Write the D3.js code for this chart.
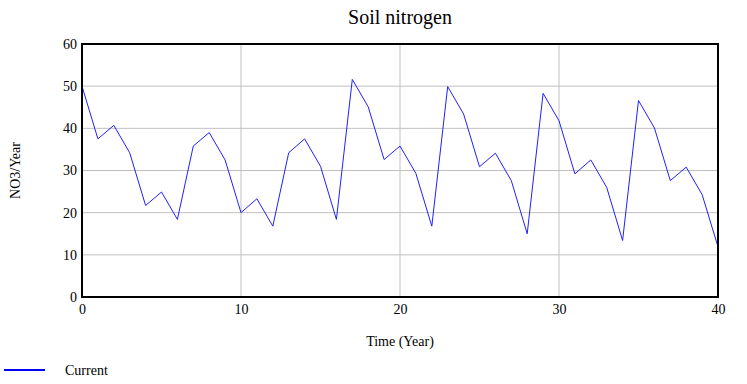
<!DOCTYPE html>
<html>
<head>
<meta charset="utf-8">
<style>
  body { margin: 0; background: #fff; }
  svg text { font-family: "Liberation Serif", "Times New Roman", serif; fill: #000; }
</style>
</head>
<body>
<div id="chart"></div>
<script src="https://cdn.jsdelivr.net/npm/d3@7"></script>
<script>
var width = 747, height = 384;
var margin = {top: 44, right: 29, bottom: 87, left: 82};

var years = d3.range(0, 41);
var current = [50, 37.5, 40.7, 34.2, 21.7, 24.9, 18.4, 35.8, 39.0, 32.5,
               20.0, 23.3, 16.8, 34.2, 37.5, 31.0, 18.4, 51.6, 45.1, 32.6,
               35.8, 29.3, 16.8, 49.9, 43.4, 30.9, 34.1, 27.6, 15.0, 48.3,
               41.8, 29.2, 32.5, 26.0, 13.4, 46.6, 40.1, 27.6, 30.8, 24.3,
               11.9];
var xTicks = [0, 10, 20, 30, 40];
var yTicks = [0, 10, 20, 30, 40, 50, 60];

var svg = d3.select('#chart').append('svg')
  .attr('width', width)
  .attr('height', height);

var x = d3.scaleLinear().domain([0, 40]).range([margin.left, width - margin.right]);
var y = d3.scaleLinear().domain([0, 60]).range([height - margin.bottom, margin.top]);

// grid
svg.append('g').selectAll('line.gx')
  .data(xTicks.slice(1, -1)).enter().append('line')
  .attr('x1', function(d) { return x(d); }).attr('x2', function(d) { return x(d); })
  .attr('y1', y(0)).attr('y2', y(60))
  .attr('stroke', '#c0c0c0').attr('stroke-width', 1);
svg.append('g').selectAll('line.gy')
  .data(yTicks.slice(1, -1)).enter().append('line')
  .attr('x1', x(0)).attr('x2', x(40))
  .attr('y1', function(d) { return y(d); }).attr('y2', function(d) { return y(d); })
  .attr('stroke', '#c0c0c0').attr('stroke-width', 1);

// axes (labels only)
var xAxis = svg.append('g')
  .attr('transform', 'translate(0,' + y(0) + ')')
  .call(d3.axisBottom(x).tickValues(xTicks).tickSize(0).tickPadding(7));
var yAxis = svg.append('g')
  .attr('transform', 'translate(' + x(0) + ',0)')
  .call(d3.axisLeft(y).tickValues(yTicks).tickSize(0).tickPadding(5));
[xAxis, yAxis].forEach(function(a) {
  a.attr('font-family', 'Liberation Serif').attr('font-size', 14);
  a.select('.domain').remove();
});

// line
var line = d3.line()
  .x(function(d, i) { return x(years[i]); })
  .y(function(d) { return y(d); });
svg.append('path')
  .datum(current)
  .attr('d', line)
  .attr('fill', 'none')
  .attr('stroke', '#2020ff')
  .attr('stroke-width', 1);

// frame
svg.append('rect')
  .attr('x', x(0)).attr('y', y(60))
  .attr('width', x(40) - x(0)).attr('height', y(0) - y(60))
  .attr('fill', 'none').attr('stroke', '#000').attr('stroke-width', 2);

// titles
svg.append('text').attr('x', 400).attr('y', 24)
  .attr('text-anchor', 'middle').style('font-size', '20px').text('Soil nitrogen');
svg.append('text').attr('x', 400).attr('y', 346)
  .attr('text-anchor', 'middle').style('font-size', '14px').text('Time (Year)');
svg.append('text')
  .attr('transform', 'translate(20,' + ((y(0) + y(60)) / 2) + ') rotate(-90)')
  .attr('text-anchor', 'middle').style('font-size', '14px').text('NO3/Year');

// legend
svg.append('line').attr('x1', 4).attr('x2', 45).attr('y1', 370).attr('y2', 370)
  .attr('stroke', '#0000ff').attr('stroke-width', 2);
svg.append('text').attr('x', 65).attr('y', 375)
  .style('font-size', '14px').text('Current');
</script>
</body>
</html>
